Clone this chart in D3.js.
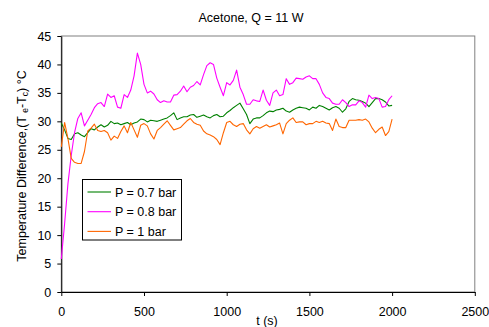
<!DOCTYPE html>
<html>
<head>
<meta charset="utf-8">
<script src="https://cdn.jsdelivr.net/npm/d3@7"></script>
<style>
  body { margin: 0; background: #fff; }
  svg { display: block; font-family: "Liberation Sans", Arial, sans-serif; }
</style>
</head>
<body>
<svg id="chart" width="489" height="327"></svg>
<script>
/******************************* DATA ***********************************/
// samples every 20 s, from 0 to 2000 s
let timeStep = 20;
let p07 = [29.7, 28.5, 27.0, 26.8, 27.8, 28.0, 27.6, 27.3, 28.0, 28.7,
  28.5, 29.0, 29.4, 29.0, 29.3, 30.0, 29.6, 29.7, 29.4, 29.6,
  29.8, 29.4, 29.7, 29.9, 30.4, 30.3, 29.9, 30.2, 30.1, 30.0,
  30.2, 30.4, 30.6, 31.0, 31.5, 30.3, 30.6, 30.8, 30.8, 31.1,
  31.2, 30.7, 30.9, 31.1, 30.8, 30.6, 31.0, 31.2, 30.8, 30.9,
  31.5, 31.9, 32.4, 32.8, 33.2, 32.2, 31.2, 29.6, 30.4, 30.6,
  30.6, 31.0, 31.5, 31.8, 31.7, 32.0, 32.1, 32.3, 31.8, 31.6,
  32.0, 32.3, 32.5, 32.4, 32.3, 32.0, 32.5, 32.3, 32.8, 32.6,
  32.3, 32.0, 32.4, 32.6, 32.3, 31.6, 32.2, 33.5, 34.0, 33.8,
  33.7, 33.5, 33.2, 32.6, 33.3, 34.0, 34.0, 33.8, 33.4, 32.7, 32.8];
let p08 = [5.8, 12.0, 19.0, 24.0, 28.0, 30.5, 31.5, 29.2, 30.2, 31.2,
  32.4, 33.1, 33.3, 32.6, 34.8, 34.2, 34.5, 32.5, 32.3, 34.7,
  34.2, 35.5, 38.0, 42.0, 40.0, 36.5, 35.0, 35.3, 34.8, 33.8,
  33.3, 33.6, 33.4, 33.4, 34.6, 34.7, 35.3, 36.2, 35.2, 36.0,
  36.3, 37.0, 36.4, 38.2, 39.8, 40.3, 40.0, 37.6, 36.0, 34.5,
  36.8, 36.4, 37.2, 39.0, 36.0, 34.7, 33.0, 33.0, 33.8, 33.6,
  33.5, 35.5, 33.7, 32.8, 35.0, 35.5, 34.5, 34.7, 37.5, 36.5,
  36.8, 37.6, 37.5, 37.4, 37.8, 38.0, 37.5, 37.5, 36.5, 35.0,
  34.2, 34.0, 33.2, 33.0, 33.0, 33.8, 33.3, 32.6, 32.9, 32.9,
  33.6, 33.3, 32.5, 34.6, 34.0, 34.2, 34.0, 32.5, 32.6, 33.8, 34.5];
let p10 = [25.5, 29.8, 27.0, 23.5, 22.8, 22.6, 22.6, 24.7, 28.3, 28.8,
  29.5, 28.4, 28.2, 28.4, 28.0, 26.7, 27.4, 27.0, 28.2, 29.2,
  28.0, 29.8, 28.5, 27.2, 29.3, 29.6, 29.2, 27.8, 26.9, 28.4,
  28.9, 29.5, 30.1, 29.3, 28.5, 28.7, 28.9, 29.5, 30.1, 30.5,
  29.8, 29.5, 29.3, 28.3, 27.8, 27.6, 27.3, 26.8, 25.9, 28.0,
  29.8, 30.0, 29.4, 29.1, 29.5, 29.6, 28.5, 27.8, 28.7, 29.1,
  28.8, 29.1, 29.4, 29.0, 29.2, 29.4, 29.7, 27.8, 29.6, 30.2,
  30.6, 29.8, 29.9, 29.9, 29.4, 29.6, 29.6, 30.0, 29.8, 30.0,
  29.7, 29.6, 28.4, 30.4, 29.1, 28.9, 28.9, 30.2, 30.2, 30.2,
  30.3, 30.2, 30.4, 29.9, 28.8, 28.0, 28.6, 29.0, 27.5, 28.2, 30.4];

let seriesNames = ['P = 0.7 bar', 'P = 0.8 bar', 'P = 1 bar'];
let seriesColors = ['#008000', '#ff00ff', '#ff6600'];
let xTicks = [0, 500, 1000, 1500, 2000, 2500];
let yTicks = [0, 5, 10, 15, 20, 25, 30, 35, 40, 45];

/******************************* CHART **********************************/
let svg = d3.select('#chart');
let plotLeft = 61.3, plotRight = 474.8, plotTop = 36, plotBottom = 292;

let x = d3.scaleLinear().domain([0, 2500]).range([plotLeft, plotRight]);
let y = d3.scaleLinear().domain([0, 45]).range([plotBottom, plotTop]);

// plot frame (gray top / right)
svg.append('rect')
    .attr('x', plotLeft).attr('y', plotTop)
    .attr('width', plotRight - plotLeft).attr('height', plotBottom - plotTop)
    .attr('fill', 'none').attr('stroke', '#808080').attr('stroke-width', 1);

// axes
let yAxis = svg.append('g')
    .attr('transform', `translate(${plotLeft},0)`)
    .call(d3.axisLeft(y).tickValues(yTicks).tickFormat(d3.format('d'))
        .tickSize(4).tickSizeOuter(0).tickPadding(6));
let xAxis = svg.append('g')
    .attr('transform', `translate(0,${plotBottom})`)
    .call(d3.axisBottom(x).tickValues(xTicks).tickFormat(d3.format('d'))
        .tickSize(4).tickSizeOuter(0).tickPadding(11));

[xAxis, yAxis].forEach((ax) => {
    ax.selectAll('path, line').attr('stroke', '#000');
    ax.selectAll('text').attr('font-size', 12.5).attr('fill', '#000')
        .attr('font-family', '"Liberation Sans", Arial, sans-serif');
});

// lines
let line = d3.line()
    .x((d, i) => x(i * timeStep))
    .y((d) => y(d));

[p07, p08, p10].forEach((values, i) => {
    svg.append('path')
        .datum(values)
        .attr('d', line)
        .attr('fill', 'none')
        .attr('stroke', seriesColors[i])
        .attr('stroke-width', 1.1)
        .attr('stroke-linejoin', 'round');
});

// title
svg.append('text')
    .attr('x', 251).attr('y', 22)
    .attr('text-anchor', 'middle')
    .attr('font-size', 12.5)
    .text('Acetone, Q = 11 W');

// axis titles
svg.append('text')
    .attr('x', 267).attr('y', 325)
    .attr('text-anchor', 'middle')
    .attr('font-size', 12.5)
    .text('t (s)');

let yTitle = svg.append('text')
    .attr('transform', 'translate(26,166) rotate(-90)')
    .attr('text-anchor', 'middle')
    .attr('font-size', 12.5);
yTitle.append('tspan').text('Temperature Difference,(T ');
yTitle.append('tspan').attr('font-size', 8.5).attr('dy', 2).text('e');
yTitle.append('tspan').attr('dy', -2).text('-T');
yTitle.append('tspan').attr('font-size', 8.5).attr('dy', 2).text('c');
yTitle.append('tspan').attr('dy', -2).text(') °C');

// legend
let legend = svg.append('g');
legend.append('rect')
    .attr('x', 82.5).attr('y', 179.5)
    .attr('width', 99).attr('height', 60.5)
    .attr('fill', '#fff').attr('stroke', '#000').attr('stroke-width', 1);

seriesNames.forEach((name, i) => {
    let ly = 192 + i * 19.7;
    legend.append('line')
        .attr('x1', 87.5).attr('x2', 111)
        .attr('y1', ly).attr('y2', ly)
        .attr('stroke', seriesColors[i]).attr('stroke-width', 1.1);
    legend.append('text')
        .attr('x', 115).attr('y', ly + 4.5)
        .attr('font-size', 12.5)
        .text(name);
});
</script>
</body>
</html>
